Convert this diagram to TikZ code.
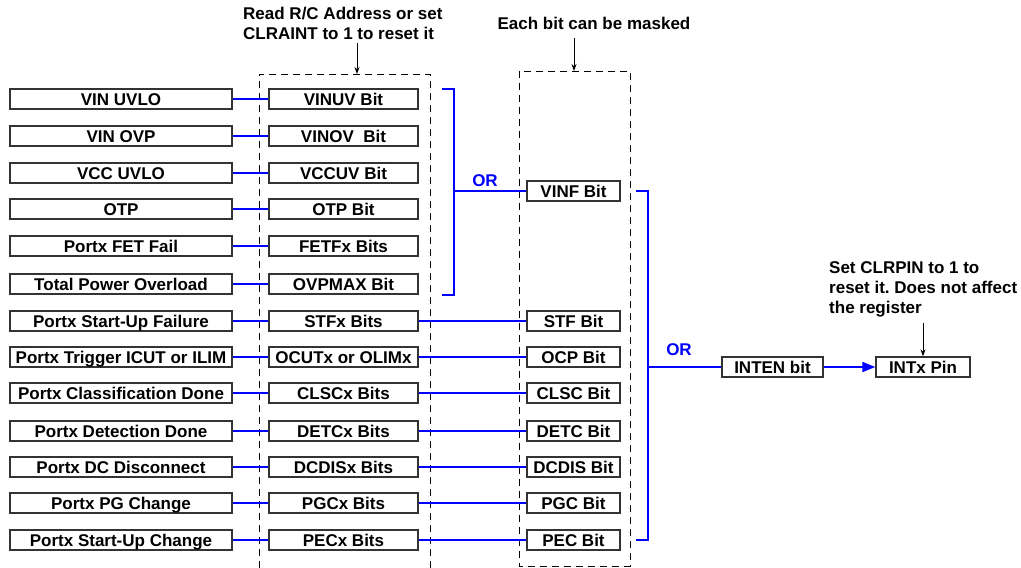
\documentclass[tikz,border=0pt]{standalone}
\usepackage{fontspec}
\setmainfont{Liberation Sans}
\usetikzlibrary{arrows.meta}
\frenchspacing
\begin{document}
\begin{tikzpicture}[x=1pt,y=-1pt,
  every node/.style={font=\bfseries\fontsize{17}{20}\selectfont, inner sep=0pt},
  boxbase/.style={draw=black!80, line width=1.3pt, minimum height=20pt, text height=12pt, text depth=0pt},
  srcbox/.style={boxbase, minimum width=222pt},
  midbox/.style={boxbase, minimum width=149pt},
  dstbox/.style={boxbase, minimum width=93pt},
  dashbox/.style={draw=black, line width=1pt, dash pattern=on 7pt off 5pt},
  blueline/.style={draw=blue, line width=1.6pt},
  orlabel/.style={text=blue},
  note/.style={align=left, anchor=north west},
  notearrow/.style={draw=black, line width=0.9pt, -{Stealth[length=7pt,width=5pt]}}
]
\useasboundingbox (0,0) rectangle (1021,568);
\fill[white] (0,0) rectangle (1021,568);

% dashed register frames
\draw[dashbox] (259,568) -- (259,74) -- (430,74) -- (430,568);
\draw[dashbox] (519,71) rectangle (630,566);

% columns x positions
\coordinate (cx) at (573.5,0);

% left + middle rows
\foreach \n/\y/\a/\b in {
  1/99/VIN UVLO/VINUV Bit,
  2/136/VIN OVP/{VINOV\ \ Bit},
  3/173/VCC UVLO/VCCUV Bit,
  4/209/OTP/OTP Bit,
  5/246/Portx FET Fail/FETFx Bits,
  6/284/Total Power Overload/OVPMAX Bit,
  7/321/Portx Start-Up Failure/STFx Bits,
  8/357/Portx Trigger ICUT or ILIM/OCUTx or OLIMx,
  9/393/Portx Classification Done/CLSCx Bits,
  10/431/Portx Detection Done/DETCx Bits,
  11/467/Portx DC Disconnect/DCDISx Bits,
  12/503/Portx PG Change/PGCx Bits,
  13/540/Portx Start-Up Change/PECx Bits}{
  \node[srcbox] (s\n) at (121,\y) {\a};
  \node[midbox] (m\n) at (343.5,\y) {\b};
  \draw[blueline] (s\n) -- (m\n);
}

% right column
\node[dstbox] (vinf) at (573.5,191) {VINF Bit};
\foreach \n/\b in {7/STF Bit, 8/OCP Bit, 9/CLSC Bit, 10/DETC Bit, 11/DCDIS Bit, 12/PGC Bit, 13/PEC Bit}{
  \node[dstbox] (r\n) at (m\n -| cx) {\b};
  \draw[blueline] (m\n) -- (r\n);
}

% first OR bracket
\draw[blueline] (442,89) -- (454,89) -- (454,295) -- (442,295);
\coordinate (or1) at (454,191);
\draw[blueline] (or1) -- (vinf);
\node[orlabel] (orlab1) at (485,181) {OR};

% second OR bracket
\draw[blueline] (636,191) -- (648,191) -- (648,540) -- (636,540);
\coordinate (or2) at (648,367);
\node[boxbase, minimum width=101pt] (inten) at (772.5,367) {INTEN bit};
\node[boxbase, minimum width=94pt] (intx) at (923,367) {INTx Pin};
\draw[blueline] (or2) -- (inten);
\node[orlabel] (orlab2) at (679,350) {OR};
\draw[blueline, -{Triangle[length=13pt,width=10pt]}] (inten) -- (intx);

% notes
\node[note] (n1) at (243,6.6) {Read R/C Address or set\\CLRAINT to 1 to reset it};
\coordinate (a1s) at (357,43);
\coordinate (a1e) at (357,74);
\draw[notearrow] (a1s) -- (a1e);

\node[anchor=base] (n2) at (594,29) {Each bit can be masked};
\coordinate (a2s) at (574,38);
\coordinate (a2e) at (574,71);
\draw[notearrow] (a2s) -- (a2e);

\node[note] (n3) at (829,261) {Set CLRPIN to 1 to\\reset it. Does not affect\\the register};
\coordinate (a3s) at (923,323);
\draw[notearrow] (a3s) -- (intx.north -| a3s);
\end{tikzpicture}
\end{document}
